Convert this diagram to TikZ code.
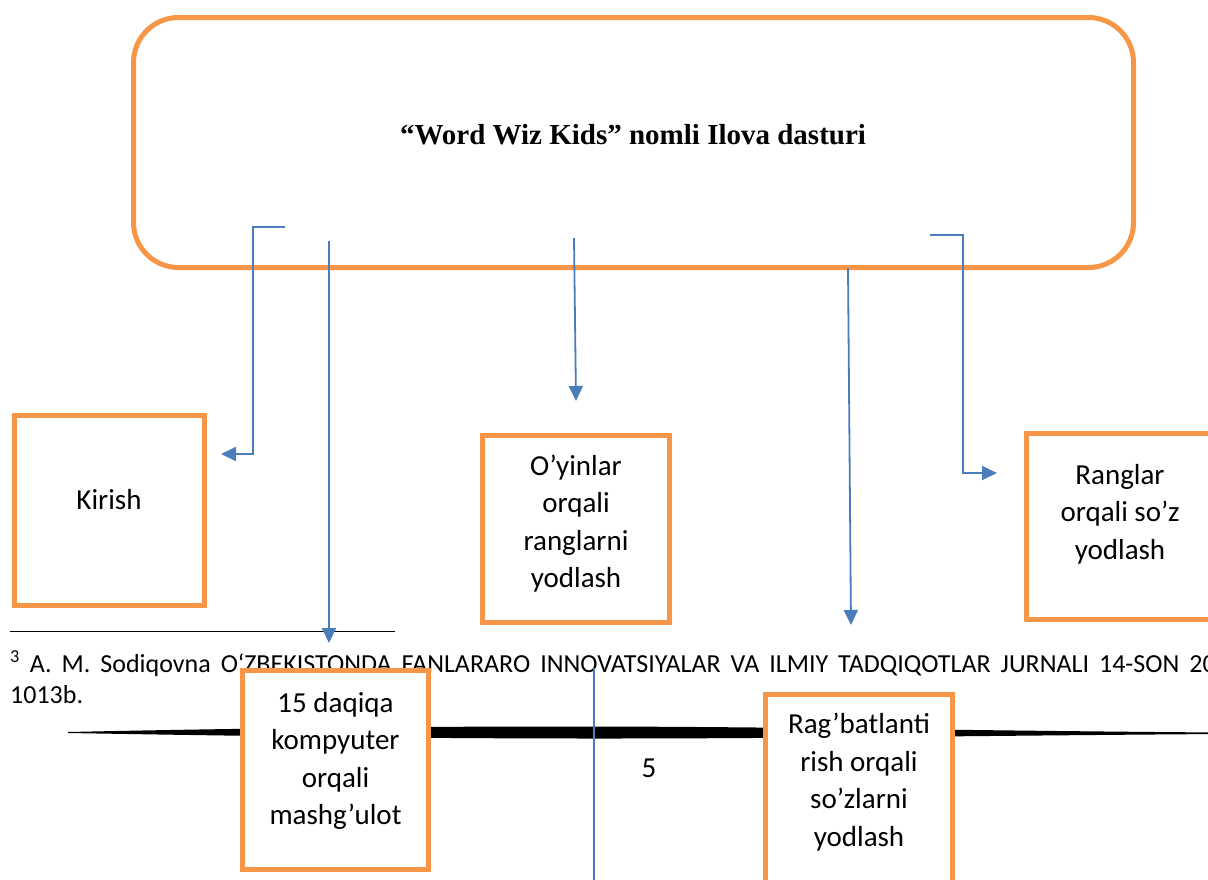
\documentclass[tikz,border=0pt]{standalone}
\usepackage{fontspec}
\setmainfont{Carlito}
\newfontfamily\titlefont{Liberation Serif}
\usetikzlibrary{arrows.meta}
\definecolor{orng}{HTML}{F79646}
\definecolor{blu}{HTML}{4A7EBB}
\newcommand\myfnspacing{\spaceskip=10pt plus 2pt\relax}
\begin{document}
\begin{tikzpicture}[x=1pt,y=-1pt,
  boxframe/.style={draw=orng, line width=5pt, fill=white, inner sep=0pt},
  boxtext/.style={align=center, inner sep=0pt, font=\fontsize{29}{37.5}\selectfont},
  conn/.style={draw=blu, line width=1.8pt, -{Triangle[length=15pt,width=14pt]}},
  plainconn/.style={draw=blu, line width=1.5pt},
  fntext/.style={anchor=base west, inner sep=0pt, font=\fontsize{26}{31}\selectfont\myfnspacing},
  ]
\useasboundingbox (0,0) rectangle (1208,879);
\clip (0,0) rectangle (1208,879);

% main rounded box
\node[draw=orng, line width=5pt, rounded corners=45pt, minimum width=1000pt,
      minimum height=250pt, inner sep=0pt] (main) at (633.5,142.5) {};
\node[inner sep=0pt, font=\titlefont\bfseries\fontsize{29}{34}\selectfont] (title) at (633,135)
  {“Word Wiz Kids” nomli Ilova dasturi};

% footnote
\coordinate (rulea) at (10,631);
\coordinate (ruleb) at (395,631);
\draw[line width=1pt] (rulea) -- (ruleb);
\node[fntext] (fn1) at (10,672)
  {\textsuperscript{3} A. M. Sodiqovna O‘ZBEKISTONDA FANLARARO INNOVATSIYALAR VA ILMIY TADQIQOTLAR JURNALI 14-SON 2024};
\node[fntext] (fn2) at (10,703) {1013b.};

% tapered black line
\fill[black] (68,732) .. controls (300,727) and (450,726.5) .. (600,726.5)
  .. controls (800,727) and (1000,731) .. (1220,732.5)
  -- (1220,734) .. controls (1000,735.5) and (800,738.5) .. (600,738.5)
  .. controls (450,738.5) and (300,737) .. (68,733) -- cycle;

% page number
\node[inner sep=0pt, font=\fontsize{29}{34}\selectfont] (pnum) at (649,768) {5};

% boxes
\node[boxframe, minimum width=190pt, minimum height=190pt] (kirishB) at (109.5,510.5) {};
\node[boxframe, minimum width=187pt, minimum height=187pt] (oyinB) at (576,529) {};
\node[boxframe, minimum width=187pt, minimum height=186pt] (ranglarB) at (1120,526.5) {};
\node[boxframe, minimum width=186pt, minimum height=199pt] (daqiqaB) at (335.5,770) {};
\node[boxframe, minimum width=187pt, minimum height=197pt] (ragB) at (859,793) {};

\node[boxtext] (kirishT) at (109,500) {Kirish};
\node[boxtext] (oyinT) at (576,523.5) {O’yinlar\\orqali\\ranglarni\\yodlash};
\node[boxtext] (ranglarT) at (1120,514) {Ranglar\\orqali so’z\\yodlash};
\node[boxtext] (daqiqaT) at (335.5,761) {15 daqiqa\\kompyuter\\orqali\\mashg’ulot};
\node[boxtext] (ragT) at (859,782) {Rag’batlanti\\rish orqali\\so’zlarni\\yodlash};

% connectors
\coordinate (k0) at (285,227);
\coordinate (k1) at (253,227);
\coordinate (k2) at (253,454);
\coordinate (k3) at (221,454);
\draw[conn] (k0) -- (k1) -- (k2) -- (k3);

\coordinate (d0) at (329,241);
\coordinate (d1) at (329,643);
\draw[conn] (d0) -- (d1);

\coordinate (o0) at (574,238);
\coordinate (o1) at (576,401);
\draw[conn] (o0) -- (o1);

\coordinate (r0) at (848,268);
\coordinate (r1) at (851,625);
\draw[conn] (r0) -- (r1);

\coordinate (g0) at (930,235);
\coordinate (g1) at (963,235);
\coordinate (g2) at (963,473);
\coordinate (g3) at (997,473);
\draw[conn] (g0) -- (g1) -- (g2) -- (g3);

\coordinate (v0) at (594,668);
\coordinate (v1) at (594,880);
\draw[plainconn] (v0) -- (v1);
\end{tikzpicture}
\end{document}
